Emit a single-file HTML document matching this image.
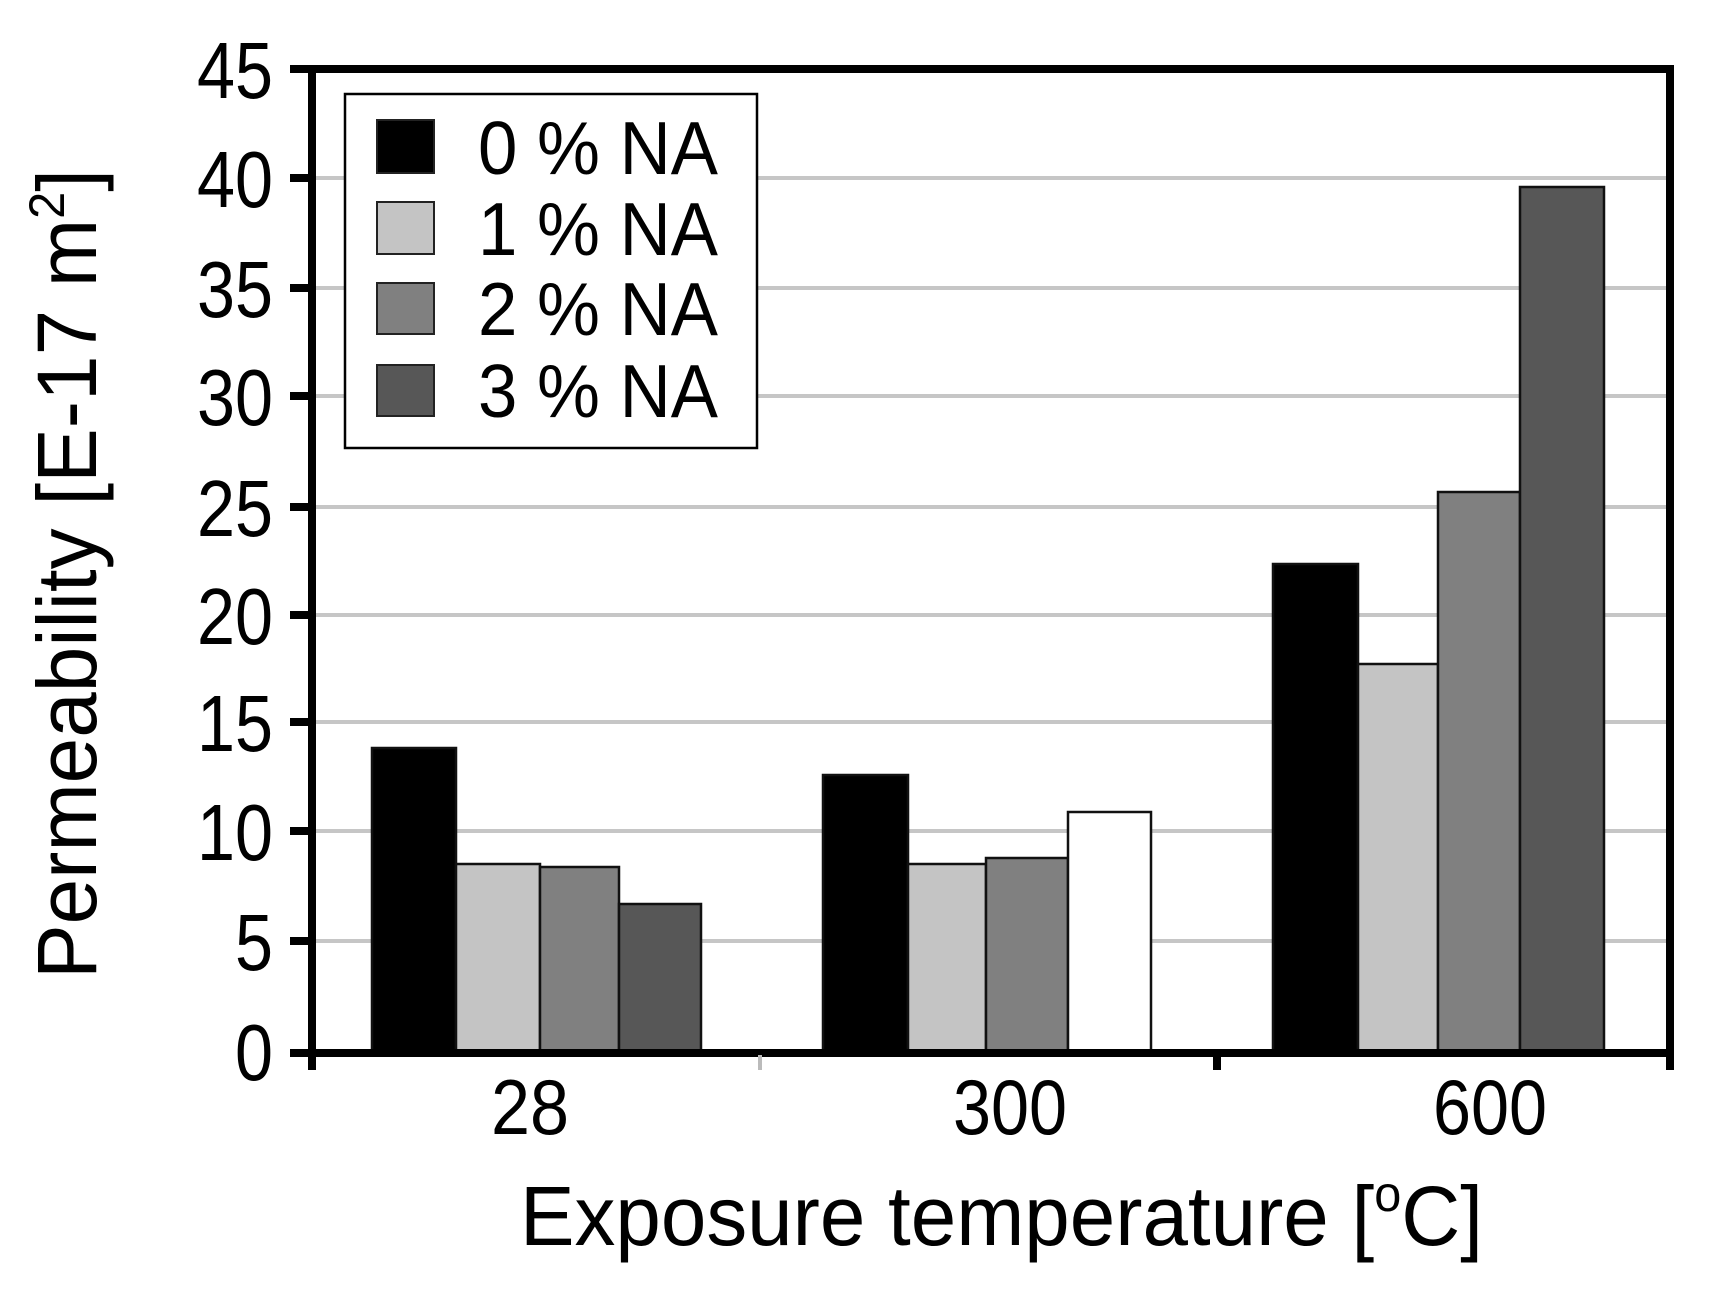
<!DOCTYPE html>
<html><head><meta charset="utf-8"><style>
html,body{margin:0;padding:0;background:#fff;width:1715px;height:1296px;overflow:hidden}
text{font-family:"Liberation Sans",Arial,sans-serif;fill:#000}
</style></head><body>
<svg width="1715" height="1296" viewBox="0 0 1715 1296" xmlns="http://www.w3.org/2000/svg">
<g stroke="#c6c6c6" stroke-width="4">
<line x1="316" y1="941" x2="1666" y2="941"/>
<line x1="316" y1="831" x2="1666" y2="831"/>
<line x1="316" y1="722" x2="1666" y2="722"/>
<line x1="316" y1="615" x2="1666" y2="615"/>
<line x1="316" y1="507" x2="1666" y2="507"/>
<line x1="316" y1="396" x2="1666" y2="396"/>
<line x1="316" y1="288" x2="1666" y2="288"/>
<line x1="316" y1="178" x2="1666" y2="178"/>
</g>
<g stroke="#111" stroke-width="2.5">
<rect x="372" y="748" width="84" height="303" fill="#000"/>
<rect x="456" y="864" width="84" height="187" fill="#c4c4c4"/>
<rect x="540" y="867" width="79" height="184" fill="#808080"/>
<rect x="619" y="904" width="82" height="147" fill="#575757"/>
<rect x="823" y="775" width="85" height="276" fill="#000"/>
<rect x="908" y="864" width="78" height="187" fill="#c4c4c4"/>
<rect x="986" y="858" width="82" height="193" fill="#808080"/>
<rect x="1068" y="812" width="83" height="239" fill="#fff"/>
<rect x="1273" y="564" width="85" height="487" fill="#000"/>
<rect x="1358" y="664" width="80" height="387" fill="#c4c4c4"/>
<rect x="1438" y="492" width="82" height="559" fill="#808080"/>
<rect x="1520" y="187" width="84" height="864" fill="#575757"/>
</g>
<g stroke="#000" stroke-width="8" fill="none">
<polyline points="312,1070 312,69 1670,69 1670,1070"/>
<line x1="290" y1="1053" x2="1674" y2="1053"/>
<line x1="1217" y1="1053" x2="1217" y2="1070"/>
</g>
<line x1="760" y1="1055" x2="760" y2="1070" stroke="#bbb" stroke-width="4"/>
<g stroke="#000" stroke-width="8">
<line x1="290" y1="941" x2="312" y2="941"/><line x1="290" y1="831" x2="312" y2="831"/>
<line x1="290" y1="722" x2="312" y2="722"/><line x1="290" y1="615" x2="312" y2="615"/>
<line x1="290" y1="507" x2="312" y2="507"/><line x1="290" y1="396" x2="312" y2="396"/>
<line x1="290" y1="288" x2="312" y2="288"/><line x1="290" y1="178" x2="312" y2="178"/>
<line x1="290" y1="69" x2="312" y2="69"/>
</g>
<g font-size="80" text-anchor="end" lengthAdjust="spacingAndGlyphs">
<text x="273" y="1080" textLength="38" lengthAdjust="spacingAndGlyphs">0</text>
<text x="273" y="970" textLength="38" lengthAdjust="spacingAndGlyphs">5</text>
<text x="273" y="860" textLength="76" lengthAdjust="spacingAndGlyphs">10</text>
<text x="273" y="751" textLength="76" lengthAdjust="spacingAndGlyphs">15</text>
<text x="273" y="644" textLength="76" lengthAdjust="spacingAndGlyphs">20</text>
<text x="273" y="536" textLength="76" lengthAdjust="spacingAndGlyphs">25</text>
<text x="273" y="425" textLength="76" lengthAdjust="spacingAndGlyphs">30</text>
<text x="273" y="317" textLength="76" lengthAdjust="spacingAndGlyphs">35</text>
<text x="273" y="207" textLength="76" lengthAdjust="spacingAndGlyphs">40</text>
<text x="273" y="98" textLength="76" lengthAdjust="spacingAndGlyphs">45</text>
</g>
<g font-size="78" text-anchor="middle">
<text x="530" y="1134" textLength="78" lengthAdjust="spacingAndGlyphs">28</text>
<text x="1010" y="1134" textLength="114" lengthAdjust="spacingAndGlyphs">300</text>
<text x="1490" y="1134" textLength="114" lengthAdjust="spacingAndGlyphs">600</text>
</g>
<text x="520" y="1245" font-size="84" textLength="963" lengthAdjust="spacingAndGlyphs">Exposure temperature [<tspan font-size="50" dy="-34">o</tspan><tspan dy="34">C]</tspan></text>
<text transform="translate(96,979) rotate(-90)" font-size="84" textLength="810" lengthAdjust="spacingAndGlyphs">Permeability [E-17 m<tspan font-size="50" dy="-32">2</tspan><tspan dy="32">]</tspan></text>
<rect x="345" y="94" width="412" height="354" fill="#fff" stroke="#000" stroke-width="2.5"/>
<g stroke="#222" stroke-width="2">
<rect x="377" y="120" width="57" height="53" fill="#000"/>
<rect x="377" y="202" width="57" height="52" fill="#c4c4c4"/>
<rect x="377" y="283" width="57" height="51" fill="#808080"/>
<rect x="377" y="365" width="57" height="51" fill="#575757"/>
</g>
<g font-size="75">
<text x="478" y="174" textLength="240" lengthAdjust="spacingAndGlyphs">0 % NA</text>
<text x="478" y="255" textLength="240" lengthAdjust="spacingAndGlyphs">1 % NA</text>
<text x="478" y="335" textLength="240" lengthAdjust="spacingAndGlyphs">2 % NA</text>
<text x="478" y="417" textLength="240" lengthAdjust="spacingAndGlyphs">3 % NA</text>
</g>
</svg>
</body></html>
